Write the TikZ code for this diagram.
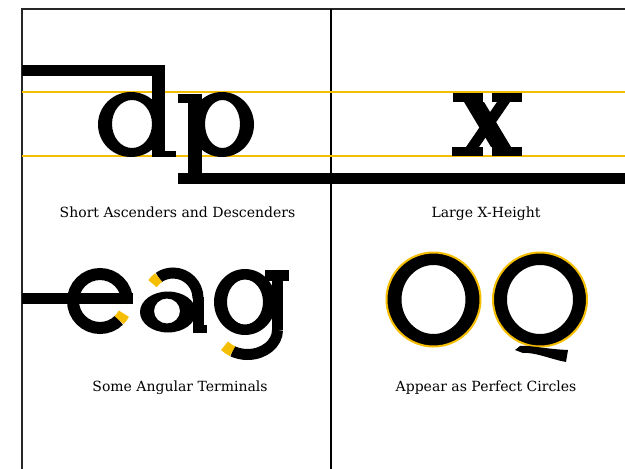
\documentclass[tikz,border=0pt]{standalone}
\usepackage{fontspec}
\setmainfont{DejaVu Serif}
\usepackage{tikz}
\definecolor{guide}{RGB}{246,190,0}

\begin{document}
\begin{tikzpicture}[x=1pt,y=-1pt,
    captext/.style={anchor=base, font=\fontsize{14}{16}\selectfont},
    stroke/.style={line width=#1}]
    \useasboundingbox (0,0) rectangle (625,469);

    % Frame
    \draw[black!85, line width=1.5pt] (22,469) -- (22,9) -- (625,9);
    \draw[line width=1.8pt] (331,9) -- (331,469);

    % Guide lines
    \draw[guide, line width=2pt] (22,92) -- (625,92);
    \draw[guide, line width=2pt] (22,156) -- (625,156);

    % Letter d with ascender bar
    \fill[even odd rule] (131,124.5) ellipse [x radius=33, y radius=32.5] (132,124) ellipse [x radius=20, y radius=24];
    \fill (22,65) rectangle (165,76);
    \fill (152,65) rectangle (165,157);
    \fill (152,151) rectangle (176,157);

    % Letter p with descender bar
    \fill[even odd rule] (222,124.5) ellipse [x radius=32, y radius=32.5] (222.5,124) ellipse [x radius=17.5, y radius=24];
    \fill (188,94) rectangle (202,184);
    \fill (178,94) rectangle (202,103);
    \fill (178,173) rectangle (625,184);

    % Letter x
    \fill (453,93) rectangle (483,102);
    \fill (492,93) rectangle (522,102);
    \fill (452,147) rectangle (483,156);
    \fill (492,147) rectangle (522,156);
    \fill (464,102) -- (484,102) -- (511,147) -- (491,147) -- cycle;
    \fill (497,102) -- (510,102) -- (479,147) -- (466,147) -- cycle;

    % Letter e
    \draw[stroke=12pt] (100,301) ++(0:27) arc[start angle=0, end angle=-315, radius=27];
    \draw[guide, stroke=12pt] (100,301) ++(-315:27) arc[start angle=-315, end angle=-332, radius=27];
    \fill (22,293) rectangle (133,304);

    % Letter a
    \fill[even odd rule] (168,312) ellipse [x radius=28, y radius=20.5] (167,311) ellipse [x radius=13, y radius=12.5];
    \draw[stroke=11pt] (173,298) ++(0:25) arc[start angle=0, end angle=-125, radius=25];
    \draw[guide, stroke=11pt] (173,298) ++(-125:25) arc[start angle=-125, end angle=-145, radius=25];
    \fill (192.5,297) rectangle (203.5,333);
    \fill (192.5,325) rectangle (207,333);

    % Letter g
    \fill[even odd rule] (245,302) ellipse [x radius=31, y radius=33] (245,302) ellipse [x radius=18, y radius=22.5];
    \fill (265,270) rectangle (289,281);
    \fill (272,272) rectangle (283,330);
    \draw[stroke=11pt] (277.5,330) arc[start angle=0, end angle=120, x radius=30, y radius=24.5];
    \draw[guide, stroke=11pt] (247.5,330) ++(120:30 and 24.5) arc[start angle=120, end angle=140, x radius=30, y radius=24.5];

    % Letters O and Q
    \fill[even odd rule] (433.5,299.5) circle [radius=47] (433.5,299.5) ellipse [x radius=32, y radius=34.5];
    \draw[guide, line width=2pt] (433.5,299.5) circle [radius=47];
    \fill[even odd rule] (540,299.5) circle [radius=47] (540,299.5) ellipse [x radius=33, y radius=34.5];
    \draw[guide, line width=2pt] (540,299.5) circle [radius=47];
    \fill (515,350) -- (520,346) .. controls (530,345) and (545,349) .. (568,350) -- (566,362) .. controls (550,359) and (535,352) .. (523,353) -- cycle;

    % Captions
    \node[captext] (dpcap) at (177.5,217) {Short Ascenders and Descenders};
    \node[captext] (xcap) at (486,217) {Large X-Height};
    \node[captext] (eagcap) at (180,391.5) {Some Angular Terminals};
    \node[captext] (oqcap) at (486,391.5) {Appear as Perfect Circles};
\end{tikzpicture}
\end{document}
